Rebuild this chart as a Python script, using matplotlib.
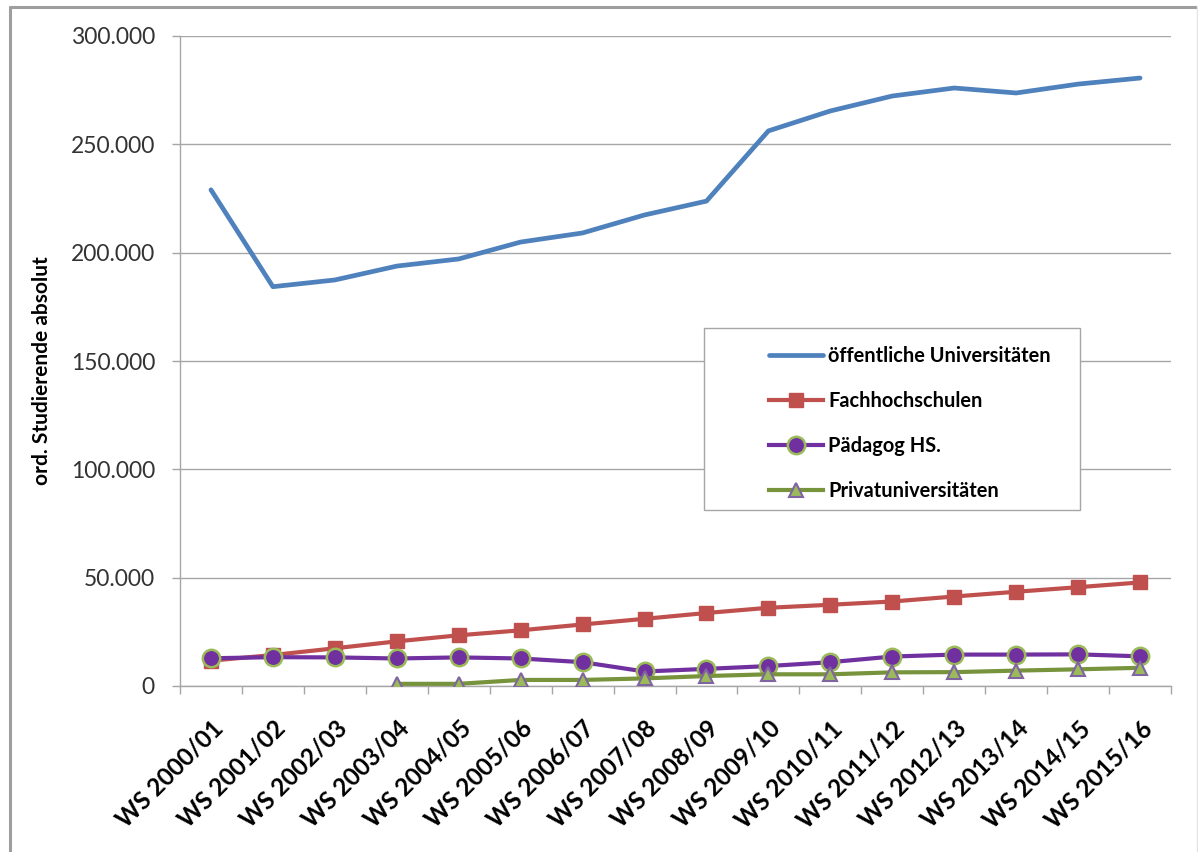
import matplotlib
matplotlib.use("Agg")
import matplotlib.pyplot as plt
from matplotlib.patches import Rectangle
from matplotlib.lines import Line2D
from matplotlib.ticker import FuncFormatter, MultipleLocator, FixedLocator
import matplotlib.transforms as mtransforms

plt.rcParams['font.family'] = ['Lato', 'DejaVu Sans']

semesters = ["WS 2000/01", "WS 2001/02", "WS 2002/03", "WS 2003/04", "WS 2004/05",
             "WS 2005/06", "WS 2006/07", "WS 2007/08", "WS 2008/09", "WS 2009/10",
             "WS 2010/11", "WS 2011/12", "WS 2012/13", "WS 2013/14", "WS 2014/15",
             "WS 2015/16"]

oeff_unis = [229000, 184300, 187400, 193800, 197100, 204900, 209100, 217400,
             223800, 256200, 265400, 272300, 276000, 273700, 277800, 280600]
fachhochschulen = [11700, 14300, 17400, 20600, 23400, 25700, 28400, 31000,
                   33700, 36100, 37500, 39000, 41300, 43500, 45600, 47800]
paed_hs = [12800, 13300, 13200, 12700, 13200, 12700, 11000, 6700,
           7900, 9200, 11000, 13600, 14500, 14500, 14600, 13700]
# private universities are reported from WS 2003/04 on
priv_start = 3
privatunis = [1000, 1000, 2800, 2800, 3500, 4600, 5400, 5400,
              6300, 6400, 7100, 7700, 8400]

series_names = ["öffentliche Universitäten", "Fachhochschulen", "Pädagog HS.",
                "Privatuniversitäten"]

W, H = 1198, 852
fig = plt.figure(figsize=(W / 100, H / 100), dpi=100)
ax = fig.add_axes([180 / W, 1 - 686 / H, (1171 - 180) / W, (686 - 36) / H])

x = list(range(len(semesters)))
blue, red, purple, green = "#4F81BD", "#C0504D", "#7030A0", "#77933C"

l1, = ax.plot(x, oeff_unis, color=blue, lw=3.4, solid_joinstyle="round",
              solid_capstyle="round", zorder=3)
l2, = ax.plot(x, fachhochschulen, color=red, lw=3.0, marker="s", markersize=10,
              markerfacecolor=red, markeredgecolor=red, zorder=4)
l3, = ax.plot(x, paed_hs, color=purple, lw=3.0, marker="o", markersize=12.5,
              markerfacecolor=purple, markeredgecolor="#9BBB59",
              markeredgewidth=1.8, zorder=5)
xp = x[priv_start:]
l4, = ax.plot(xp, privatunis, color=green, lw=3.0, marker="^", markersize=9.5,
              markerfacecolor="#9BBB59", markeredgecolor="#8064A2",
              markeredgewidth=1.5, zorder=6)

ax.set_xlim(-0.5, len(semesters) - 0.5)
ax.set_ylim(0, 300000)

grid_col = "#A6A6A6"
ax.yaxis.set_major_locator(MultipleLocator(50000))
ax.yaxis.set_major_formatter(FuncFormatter(lambda v, p: f"{int(v):,}".replace(",", ".")))
ax.grid(axis="y", color=grid_col, lw=1.0, zorder=0)
ax.set_axisbelow(True)

for s in ["top", "right"]:
    ax.spines[s].set_visible(False)
for s in ["left", "bottom"]:
    ax.spines[s].set_color(grid_col)
    ax.spines[s].set_linewidth(1.0)

ax.tick_params(axis="y", direction="out", length=6, width=1.0, color=grid_col,
               pad=12, labelsize=16.5, labelcolor="#333333")

ax.set_xticks(x)
ax.set_xticklabels(semesters, rotation=45, ha="right", va="top",
                   rotation_mode="anchor", fontsize=17.5, fontweight="bold")
shift = mtransforms.ScaledTranslation(4 / 100, 0, fig.dpi_scale_trans)
for lab in ax.get_xticklabels():
    lab.set_transform(lab.get_transform() + shift)
ax.xaxis.set_minor_locator(FixedLocator([i - 0.5 for i in range(len(semesters) + 1)]))
ax.tick_params(axis="x", which="major", length=0, pad=22)
ax.tick_params(axis="x", which="minor", length=6, width=1.0, color=grid_col)

ax.set_ylabel("ord. Studierende absolut", fontsize=15, fontweight="bold")
ax.yaxis.set_label_coords((52 - 180) / (1171 - 180), 0.485)

# legend box
fig.patches.append(Rectangle((704 / W, 1 - 510 / H), (1080 - 704) / W, (510 - 328) / H,
                             transform=fig.transFigure, facecolor="white",
                             edgecolor="#A6A6A6", lw=1.0, zorder=2))
leg = fig.legend([l1, l2, l3, l4], series_names, loc="upper left",
                 bbox_to_anchor=(753 / W, 1 - 330 / H), frameon=False,
                 prop={"weight": "bold", "size": 14.4}, handlelength=2.7,
                 handletextpad=0.25, labelspacing=1.25, borderpad=0.3)
leg.set_zorder(10)

# outer chart frame: strong top/left edges, faint right edge
fig.add_artist(Line2D([9.5 / W, 9.5 / W], [0, 1 - 6 / H], transform=fig.transFigure,
                      color="#9E9E9E", lw=2.2, solid_capstyle="butt"))
fig.add_artist(Line2D([8.5 / W, 1197 / W], [1 - 6.5 / H, 1 - 6.5 / H],
                      transform=fig.transFigure, color="#9E9E9E", lw=2.2,
                      solid_capstyle="butt"))
fig.add_artist(Line2D([1196.5 / W, 1196.5 / W], [0, 1 - 6 / H], transform=fig.transFigure,
                      color="#E4E4E4", lw=1.0))

fig.savefig("out.png", dpi=100)
